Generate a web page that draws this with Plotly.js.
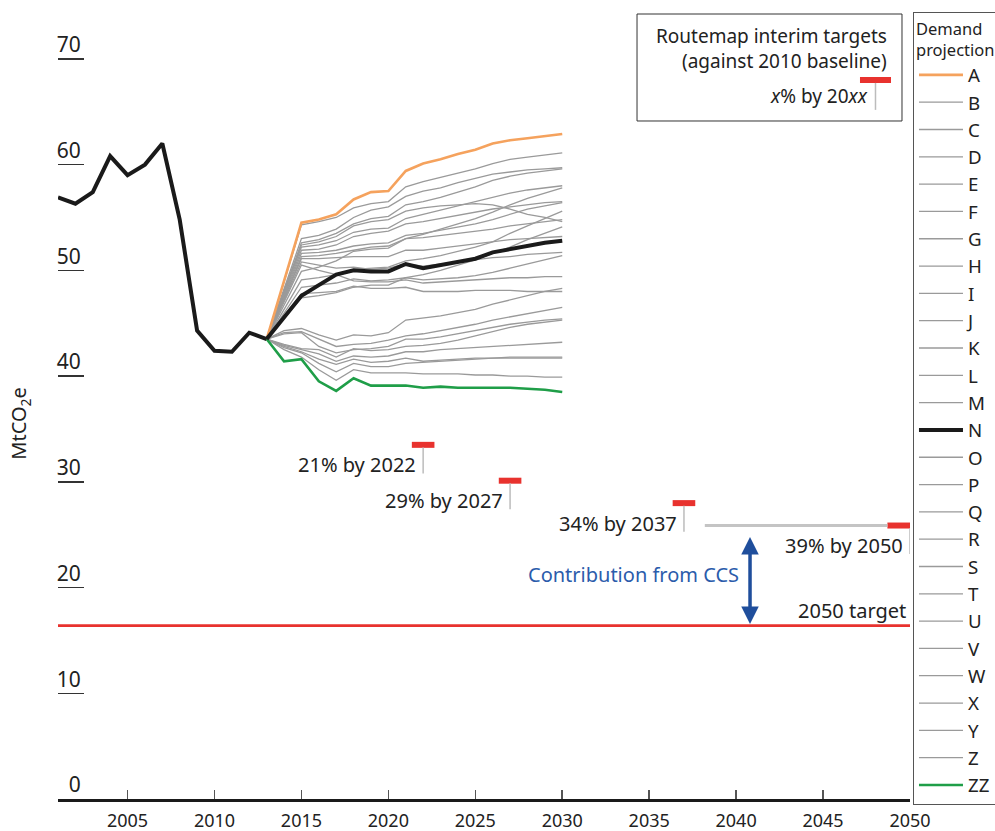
<!DOCTYPE html>
<html>
<head>
<meta charset="utf-8">
<script src="https://cdn.plot.ly/plotly-3.0.1.min.js"></script>
<style>html,body{margin:0;padding:0;background:#fff;}#chart{width:995px;height:831px;}</style>
</head>
<body>
<div id="chart"></div>
<script>
// ---------- DATA ----------
const histYears = [2001,2002,2003,2004,2005,2006,2007,2008,2009,2010,2011,2012,2013];
const histValues = [56.9,56.3,57.4,60.8,59.0,60.0,62.0,54.8,44.3,42.4,42.3,44.1,43.5];

const projYears = [2013,2014,2015,2016,2017,2018,2019,2020,2021,2022,2023,2024,2025,2026,2027,2028,2029,2030];

const seriesA  = [43.5,49.1,54.5,54.8,55.3,56.7,57.4,57.5,59.4,60.1,60.5,61.0,61.4,62.0,62.3,62.5,62.7,62.9];
const seriesB  = [43.5,48.9,54.3,54.6,55.0,55.9,56.3,56.5,57.9,58.4,58.8,59.2,59.6,60.1,60.5,60.7,60.9,61.1];
const seriesC  = [43.5,48.2,53.0,53.3,53.9,55.0,55.7,56.0,57.0,57.5,57.8,58.3,58.7,59.1,59.3,59.5,59.6,59.7];
const seriesD  = [43.5,48.0,52.6,52.9,53.5,54.4,54.9,55.1,56.2,56.5,56.9,57.4,57.9,58.5,58.9,59.2,59.4,59.6];
const seriesE  = [43.5,47.9,52.4,52.7,53.2,54.2,54.6,54.8,55.6,55.9,56.1,56.2,56.3,56.2,55.8,55.3,55.0,54.6];
const seriesF  = [43.5,47.8,52.2,52.4,52.8,53.6,53.9,54.0,54.9,55.3,55.7,56.1,56.5,56.9,57.3,57.6,57.8,58.0];
const seriesG  = [43.5,47.7,51.9,52.0,52.4,53.2,53.5,53.7,54.4,54.6,54.9,55.2,55.5,55.8,56.0,56.2,56.4,56.5];
const seriesH  = [43.5,47.5,51.6,51.7,51.9,52.3,52.5,52.6,53.3,53.5,53.8,54.1,54.4,54.8,55.3,55.8,56.1,56.4];
const seriesI  = [43.5,47.4,51.3,51.4,51.6,51.9,52.2,52.3,53.0,53.1,53.3,53.5,53.7,53.9,54.2,54.4,54.6,54.8];
const seriesJ  = [43.5,47.3,51.1,51.1,51.2,51.3,51.3,51.3,51.9,51.9,52.1,52.3,52.5,52.7,52.9,53.0,53.1,53.2];
const seriesK  = [43.5,47.2,50.8,50.5,50.2,50.3,50.1,50.2,50.6,50.4,50.6,50.8,51.0,51.2,51.3,51.5,51.6,51.7];
const seriesL  = [43.5,47.0,50.5,50.0,49.6,49.0,48.9,48.9,49.1,48.8,48.9,49.0,49.1,49.2,49.3,49.3,49.4,49.4];
const seriesM  = [43.5,46.7,49.9,50.3,50.9,51.8,52.0,52.1,53.0,53.4,53.9,54.4,54.9,55.5,56.2,56.8,57.3,57.8];
const seriesN  = [43.5,45.6,47.6,48.6,49.6,50.0,49.9,49.9,50.6,50.2,50.5,50.8,51.1,51.7,52.0,52.3,52.6,52.8];
const seriesO  = [43.5,46.3,49.1,49.3,49.6,50.1,50.2,50.3,50.9,51.1,51.4,51.8,52.2,52.7,53.5,54.2,54.9,55.6];
const seriesP  = [43.5,46.0,48.4,48.6,48.8,49.2,49.0,49.1,49.3,49.1,49.2,49.3,49.5,49.8,50.2,50.6,51.0,51.4];
const seriesQ  = [43.5,45.7,47.8,47.9,48.0,48.5,48.3,48.3,48.4,48.0,48.0,48.0,48.1,48.1,48.1,48.0,48.0,48.0];
const seriesR  = [43.5,45.5,47.4,47.6,47.9,48.4,48.6,48.6,49.3,49.6,50.0,50.5,51.0,51.6,52.2,52.9,53.5,54.1];
const seriesS  = [43.5,44.3,44.5,43.9,43.4,43.9,43.8,44.1,45.3,45.5,45.7,46.0,46.3,46.8,47.2,47.6,48.0,48.3];
const seriesT  = [43.5,44.1,44.2,43.5,42.8,43.0,43.1,43.4,43.8,44.0,44.3,44.6,44.9,45.3,45.6,45.9,46.2,46.5];
const seriesU  = [43.5,44.0,44.1,42.8,42.2,42.5,42.6,42.8,43.5,43.5,43.7,44.0,44.3,44.6,44.9,45.1,45.3,45.4];
const seriesV  = [43.5,43.0,42.6,42.5,41.8,42.6,42.4,42.5,42.8,42.9,43.1,43.4,43.8,44.2,44.6,44.9,45.1,45.3];
const seriesW  = [43.5,42.9,42.5,42.1,41.4,41.9,41.8,41.9,42.3,42.3,42.5,42.6,42.7,42.8,42.9,43.0,43.1,43.2];
const seriesX  = [43.5,42.8,42.3,41.6,41.1,41.6,41.3,41.4,41.7,41.4,41.5,41.6,41.7,41.7,41.8,41.8,41.8,41.8];
const seriesY  = [43.5,42.7,42.2,41.2,40.4,41.2,40.9,40.9,41.2,41.3,41.4,41.5,41.6,41.7,41.7,41.7,41.7,41.7];
const seriesZ  = [43.5,42.5,41.8,40.6,39.6,40.6,40.3,40.3,40.3,40.2,40.2,40.2,40.1,40.1,40.0,40.0,39.9,39.9];
const seriesZZ = [43.5,41.4,41.6,39.5,38.6,39.8,39.1,39.1,39.1,38.9,39.0,38.9,38.9,38.9,38.9,38.8,38.7,38.5];

const seriesNames = ['A','B','C','D','E','F','G','H','I','J','K','L','M','N','O','P','Q','R','S','T','U','V','W','X','Y','Z','ZZ'];
const seriesValues = [seriesA,seriesB,seriesC,seriesD,seriesE,seriesF,seriesG,seriesH,seriesI,seriesJ,seriesK,seriesL,seriesM,seriesN,seriesO,seriesP,seriesQ,seriesR,seriesS,seriesT,seriesU,seriesV,seriesW,seriesX,seriesY,seriesZ,seriesZZ];

const targetYears = [2022, 2027, 2037, 2050];
const targetPct = [21, 29, 34, 39];
const baselineYear = 2010;
const target2050 = 16.4;

const xTicks = [2005,2010,2015,2020,2025,2030,2035,2040,2045,2050];
const yTicks = [0,10,20,30,40,50,60,70];

// ---------- STYLE ----------
const FONT = 'Noto Sans, Open Sans, sans-serif';
const TXT = '#222';
const styleFor = name => {
  if (name === 'A') return {color:'#f5a25d', width:2.6};
  if (name === 'N') return {color:'#1a1a1a', width:4};
  if (name === 'ZZ') return {color:'#1f9e48', width:2.6};
  return {color:'#9a9a9a', width:1.3};
};

const traces = [];
const drawOrder = seriesNames.map((n,i)=>i).sort((a,b)=>{
  const rank = n => (n==='N'?3:(n==='A'||n==='ZZ')?2:1);
  return rank(seriesNames[a]) - rank(seriesNames[b]);
});
drawOrder.forEach(i => {
  traces.push({
    type:'scatter', mode:'lines', name:seriesNames[i],
    x: projYears, y: seriesValues[i],
    line: Object.assign({}, styleFor(seriesNames[i])),
    legendrank: i+1, hoverinfo:'skip'
  });
});
traces.push({
  type:'scatter', mode:'lines', name:'Historical', showlegend:false,
  x: histYears, y: histValues, line:{color:'#1a1a1a', width:4}, hoverinfo:'skip'
});

const baseline = histValues[histYears.indexOf(baselineYear)];
const shapes = [];
const annotations = [];
const ANN = 20;

shapes.push({type:'line', xref:'paper', x0:0, x1:1, yref:'y', y0:target2050, y1:target2050,
  line:{color:'#e8322e', width:2.6}, layer:'above'});

targetYears.forEach((yr, i) => {
  const v = baseline * (1 - targetPct[i]/100);
  const xr = Math.min(yr + 0.65, 2050);
  shapes.push({type:'line', xref:'x', yref:'y', x0:xr-1.3, x1:xr, y0:v, y1:v,
    line:{color:'#e8322e', width:6}});
  shapes.push({type:'line', xref:'x', yref:'y', x0:yr, x1:yr, y0:v-0.25, y1:v-2.7,
    line:{color:'#bcbcbc', width:1.5}});
  annotations.push({xref:'x', yref:'y', x:yr, y:v, xanchor:'right', yanchor:'middle',
    xshift:-5, yshift:-20, showarrow:false, text: targetPct[i] + '% by ' + yr,
    font:{family:FONT, size:ANN, color:TXT}});
});

const v2050 = baseline * (1 - targetPct[3]/100);
shapes.push({type:'line', xref:'x', yref:'y', x0:2038.2, x1:2048.7, y0:v2050, y1:v2050,
  line:{color:'#c4c4c4', width:3}});

annotations.push({xref:'x', yref:'y', axref:'x', ayref:'y', x:2040.8, y:target2050+0.15,
  ax:2040.8, ay:v2050-0.15, showarrow:true, arrowside:'end+start', arrowhead:2, arrowsize:1,
  arrowwidth:3.5, arrowcolor:'#1f4e9c', text:' '});
annotations.push({xref:'x', yref:'y', x:2040.8, y:21.2, xanchor:'right', yanchor:'middle', xshift:-9,
  showarrow:false, text:'Contribution from CCS', font:{family:FONT, size:ANN, color:'#2b5cab'}});
annotations.push({xref:'x', yref:'y', x:2050, y:target2050, xanchor:'right', yanchor:'bottom', xshift:-2, yshift:0,
  showarrow:false, text:'2050 target', font:{family:FONT, size:ANN, color:TXT}});

annotations.push({xref:'paper', yref:'y', x:0, y:35.5, xshift:-38, xanchor:'center', yanchor:'middle',
  textangle:-90, showarrow:false, text:'MtCO<sub>2</sub>e', font:{family:FONT, size:20, color:TXT}});

// Routemap key box
shapes.push({type:'rect', xref:'paper', yref:'paper', x0:0.6796, x1:0.9906, y0:0.855, y1:0.9899,
  line:{color:'#333', width:1}, fillcolor:'rgba(255,255,255,0)'});
shapes.push({type:'line', xref:'paper', yref:'paper', x0:0.9413, x1:0.9777, y0:0.9067, y1:0.9067,
  line:{color:'#e8322e', width:6}});
shapes.push({type:'line', xref:'paper', yref:'paper', x0:0.9595, x1:0.9595, y0:0.903, y1:0.869,
  line:{color:'#bcbcbc', width:1.5}});
annotations.push({xref:'paper', yref:'paper', x:0.9754, y:0.9622, xanchor:'right', yanchor:'middle',
  showarrow:false, text:'Routemap interim targets', font:{family:FONT, size:19, color:TXT}});
annotations.push({xref:'paper', yref:'paper', x:0.9754, y:0.9307, xanchor:'right', yanchor:'middle',
  showarrow:false, text:'(against 2010 baseline)', font:{family:FONT, size:19, color:TXT}});
annotations.push({xref:'paper', yref:'paper', x:0.9531, y:0.8865, xanchor:'right', yanchor:'middle',
  showarrow:false, text:'<i>x</i>% by 20<i>xx</i>', font:{family:FONT, size:19, color:TXT}});

const layout = {
  width:995, height:831,
  margin:{l:58, r:85, t:6, b:32, autoexpand:false},
  paper_bgcolor:'#fff', plot_bgcolor:'#fff',
  font:{family:FONT, color:TXT},
  showlegend:true,
  xaxis:{range:[2001,2050], tickvals:xTicks, ticks:'inside', ticklen:9, tickwidth:1.5, tickcolor:'#555',
    showline:true, linewidth:3, linecolor:'#1a1a1a', showgrid:false, zeroline:false,
    ticklabelstandoff:3, automargin:false,
    tickfont:{family:FONT, size:18, color:TXT}, fixedrange:true},
  yaxis:{range:[0,75], tickvals:yTicks, ticktext:yTicks.map(v => v < 10 ? '\u2007' + v : String(v)),
    ticks:'inside', ticklen:26, tickwidth:1.5, tickcolor:'#333',
    showline:false, showgrid:false, zeroline:false, automargin:false,
    ticklabelposition:'inside', ticklabelstandoff:-26, ticklabelshift:-14,
    tickfont:{family:FONT, size:21, color:TXT}, fixedrange:true},
  legend:{x:1.0035, y:0.992, xanchor:'left', yanchor:'top', bordercolor:'#555', borderwidth:1,
    bgcolor:'#fff', font:{family:FONT, size:18.7, color:TXT}, tracegroupgap:0, itemwidth:44,
    title:{text:'Demand<br>projection', font:{family:FONT, size:16.5, color:TXT}}},
  shapes: shapes,
  annotations: annotations
};

Plotly.newPlot('chart', traces, layout, {displayModeBar:false, staticPlot:true});
</script>
</body>
</html>
